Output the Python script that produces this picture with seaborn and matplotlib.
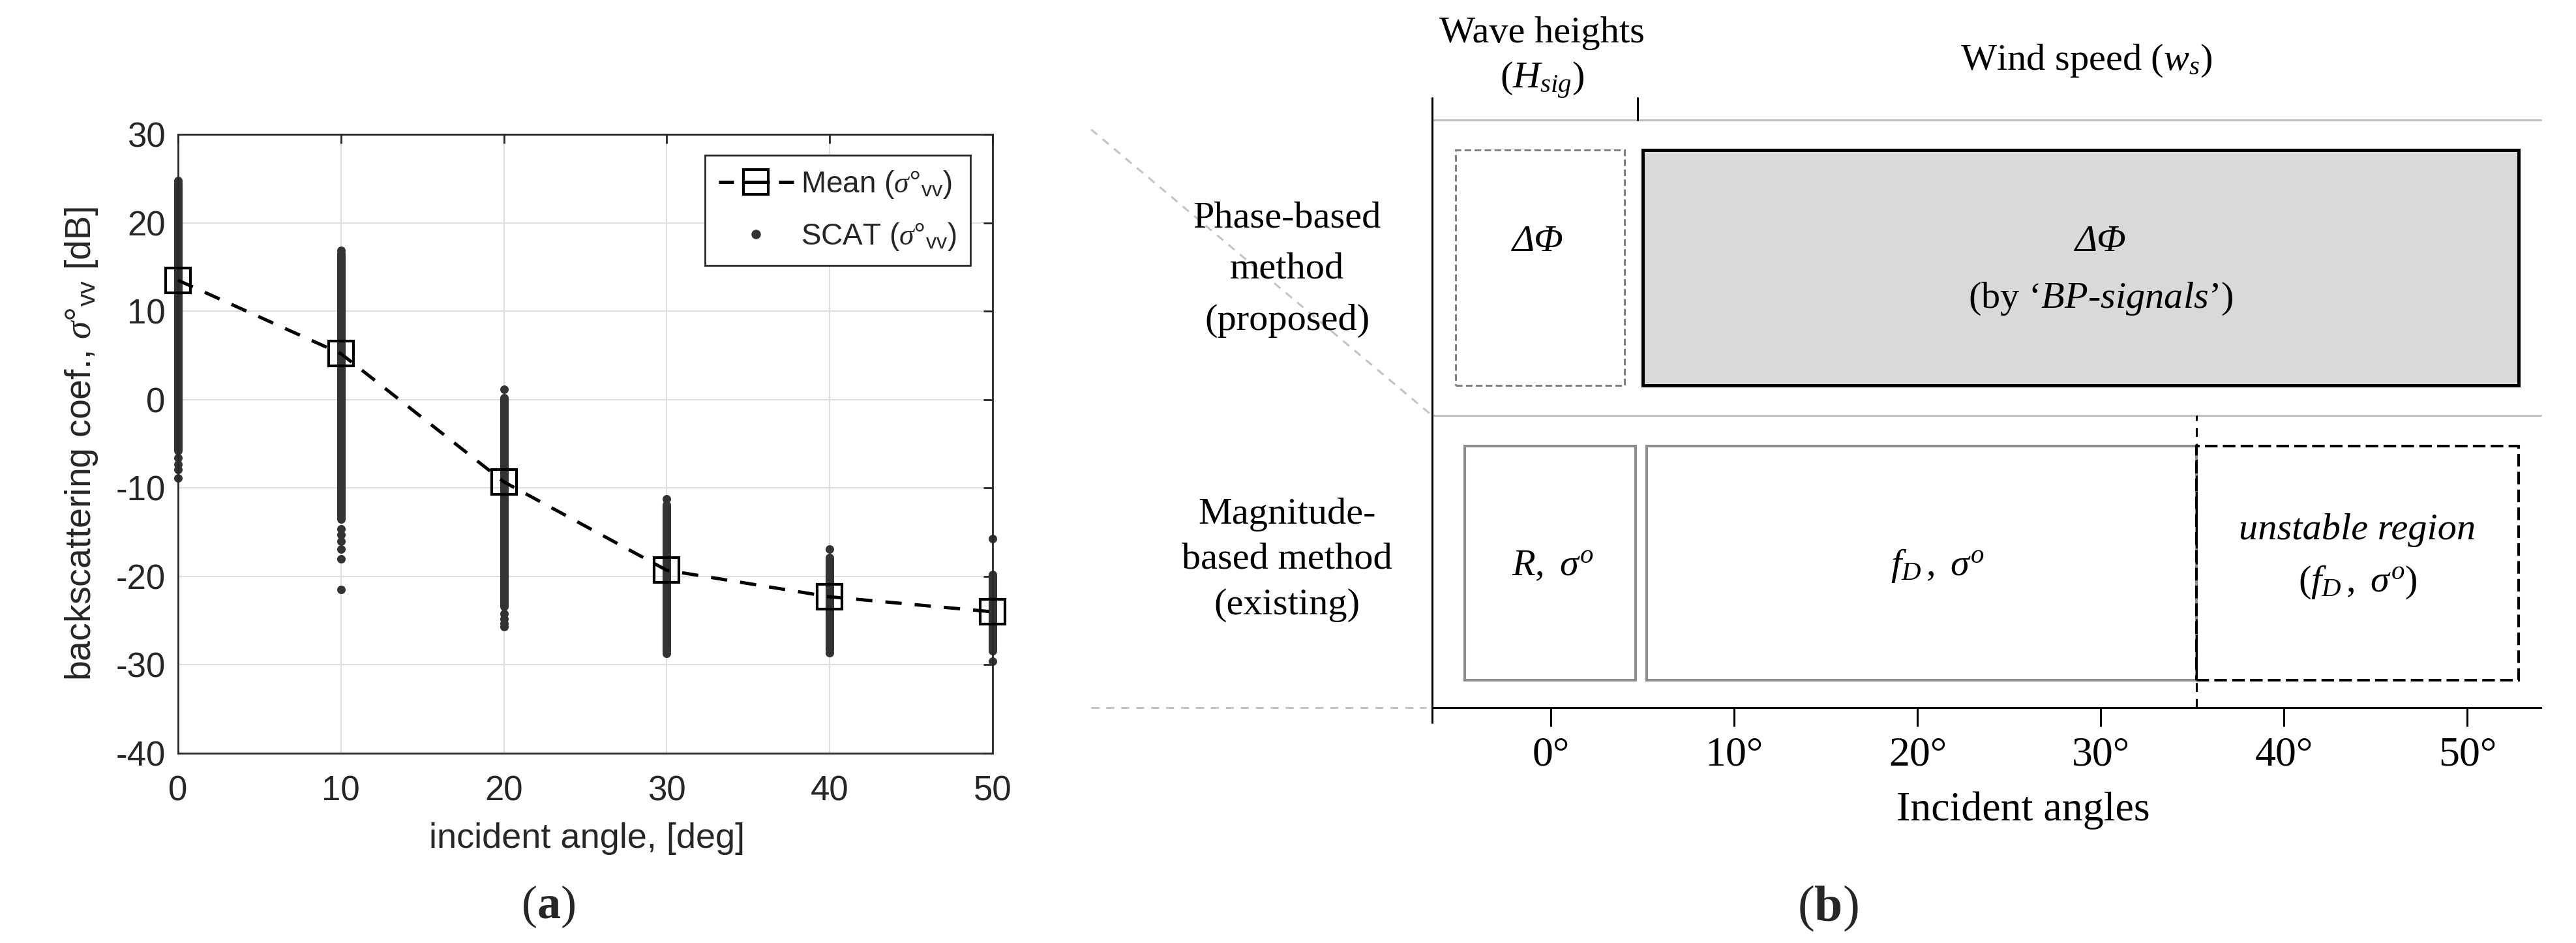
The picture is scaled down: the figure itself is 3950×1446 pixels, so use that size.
import matplotlib
matplotlib.use("Agg")
import matplotlib.pyplot as plt
from matplotlib.patches import Rectangle
from matplotlib.lines import Line2D
import seaborn as sns
import pandas as pd

# ---- (a) backscattering coefficient vs incident angle ----
angles = [0, 10, 20, 30, 40, 50]
mean_vv = [13.5, 5.2, -9.3, -19.3, -22.3, -24.0]
# dense part of every SCAT column (so many dots that it reads as a bar)
scat_top = [24.5, 16.5, 0.2, -11.9, -17.9, -19.8]
scat_bottom = [-5.8, -13.5, -23.4, -28.4, -28.3, -28.4]
# single SCAT dots that stand apart from the dense part
dot_angle = [0, 0, 0, 0, 0, 10, 10, 10, 10, 10, 10, 10,
             20, 20, 20, 20, 20, 30, 30, 40, 40, 50, 50]
dot_value = [24.8, -6.6, -7.3, -7.9, -8.9, 16.9, -14.6, -15.3, -16.0, -16.9, -18.0, -21.5,
             1.2, -24.2, -24.8, -25.3, -25.7, -11.2, -28.7, -16.9, -28.6, -15.7, -29.6]

# ---- (b) method / angle-range diagram ----
tick_deg = [0, 10, 20, 30, 40, 50]
box_names = ["phase_wave", "phase_wind", "mag_wave", "mag_wind", "mag_unstable"]
box_x0 = [-5.2, 5.0, -4.7, 5.2, 35.2]
box_x1 = [4.0, 52.8, 4.6, 35.2, 52.8]
box_row = ["phase", "phase", "magnitude", "magnitude", "magnitude"]
row_lo = {"phase": 52.8, "magnitude": 4.5}
row_hi = {"phase": 91.4, "magnitude": 42.9}

sns.set_theme(style="white")
plt.rcParams["font.family"] = ["Liberation Sans", "DejaVu Sans"]
plt.rcParams["axes.unicode_minus"] = False
plt.rcParams["mathtext.fontset"] = "custom"
plt.rcParams["mathtext.rm"] = "Liberation Serif"
plt.rcParams["mathtext.it"] = "Liberation Serif:italic"
plt.rcParams["mathtext.bf"] = "Liberation Serif:bold"
plt.rcParams["mathtext.sf"] = "Liberation Sans"

serif = ["Liberation Serif", "DejaVu Serif"]
ink = "#262626"
scat_col = "#333333"

fig = plt.figure(figsize=(39.5, 14.46), dpi=100)
ax = fig.add_axes([0.0691, 0.2012, 0.3162, 0.6563])
axb = fig.add_axes([0.5559, 0.2497, 0.4304, 0.6466])

# ---------------- panel (a) ----------------
ax.set_axisbelow(True)
ax.vlines(angles, scat_bottom, scat_top, colors=scat_col, linewidth=9.4,
          capstyle="round", clip_on=False, zorder=2)
dots = pd.DataFrame({"angle": dot_angle, "value": dot_value})
sns.scatterplot(data=dots, x="angle", y="value", ax=ax, color=scat_col, s=88,
                linewidth=0, clip_on=False, zorder=2)
sns.lineplot(x=angles, y=mean_vv, ax=ax, color="black", linewidth=3.6,
             linestyle=(0, (5, 4)), marker="s", markersize=28,
             markerfacecolor="none", markeredgecolor="black", markeredgewidth=3,
             clip_on=False, zorder=3)

ax.set_xlim(0, 50)
ax.set_ylim(-40, 30)
ax.set_xticks(angles)
ax.set_yticks(range(-40, 31, 10))
ax.grid(True, color="#dedede", linewidth=1.4)
ax.tick_params(direction="in", top=True, right=True, length=10, width=2,
               colors=ink, labelsize=38)
ax.tick_params(axis="x", pad=24)
ax.tick_params(axis="y", pad=14)
for s in ax.spines.values():
    s.set_visible(True)
    s.set_color(ink)
    s.set_linewidth(2)

ax.set_xlabel("incident angle, [deg]", fontsize=39, color=ink)
ax.xaxis.set_label_coords(0.502, -0.1117)
ax.set_ylabel(r"backscattering coef., $\sigma$°$_{\mathsf{vv}}$ [dB]", fontsize=40, color=ink)
ax.yaxis.set_label_coords(-0.096, 0.5)

h_mean = Line2D([], [], color="black", lw=3.6, linestyle=(0, (4.6, 2.8, 8.2, 2.8, 4.6)),
                marker="s", ms=28, mfc="none", mec="black", mew=3)
h_scat = Line2D([], [], linestyle="none", marker="o", ms=9.4, color=scat_col)
leg = ax.legend([h_mean, h_scat],
                [r"Mean ($\sigma$°$_{\mathsf{vv}}$)", r"SCAT ($\sigma$°$_{\mathsf{vv}}$)"],
                loc="upper right", bbox_to_anchor=(0.9728, 0.9663), borderaxespad=0,
                fontsize=33, frameon=True, fancybox=False, edgecolor=ink, framealpha=1,
                handlelength=2.5, handletextpad=0.25, borderpad=0.45, labelspacing=0.7,
                numpoints=1)
leg.get_frame().set_linewidth(2)

fig.text(0.2127, 0.0387, r"$(\mathbf{a})$", ha="center", va="center", fontsize=52)

# ---------------- panel (b) ----------------
box_style = {
    "phase_wave": dict(facecolor="white", edgecolor="#808080", lw=2.2, ls=(0, (3.3, 1.7))),
    "phase_wind": dict(facecolor="#d9d9d9", edgecolor="black", lw=3.6, ls="-"),
    "mag_wave": dict(facecolor="white", edgecolor="#8c8c8c", lw=2.9, ls="-"),
    "mag_wind": dict(facecolor="white", edgecolor="#8c8c8c", lw=2.9, ls="-"),
    "mag_unstable": dict(facecolor="none", edgecolor="black", lw=2.9, ls=(0, (4.8, 2))),
}
for name, x0, x1, row in zip(box_names, box_x0, box_x1, box_row):
    st = box_style[name]
    axb.add_patch(Rectangle((x0, row_lo[row]), x1 - x0, row_hi[row] - row_lo[row],
                            facecolor=st["facecolor"], edgecolor=st["edgecolor"],
                            linewidth=st["lw"], linestyle=st["ls"], zorder=2))

axb.set_xlim(-6.5, 54.0)
axb.set_ylim(0, 100)

gray_line = "#bfbfbf"
axb.plot([-6.5, 54.0], [96.4, 96.4], color=gray_line, lw=2.2, clip_on=False, zorder=1)
axb.plot([-6.5, 54.0], [47.9, 47.9], color=gray_line, lw=2.2, clip_on=False, zorder=1)
axb.plot([-6.5, -6.5], [-2.5, 100], color="black", lw=2.2, clip_on=False, zorder=3)
axb.plot([4.7, 4.7], [96.4, 100], color="black", lw=2.2, clip_on=False, zorder=3)
axb.plot([35.2, 35.2], [0, 47.9], color="black", lw=2.2, ls=(0, (4.5, 3.5)), zorder=3)
axb.plot([-25.1, -6.5], [94.8, 47.9], color="#c4c4c4", lw=2.2, ls=(0, (4, 3.5)),
         clip_on=False)
axb.plot([-25.1, -6.8], [0, 0], color="#c4c4c4", lw=2.2, ls=(0, (4, 3.5)), clip_on=False)

axb.set_xticks(tick_deg)
axb.set_xticklabels([f"{t}°" for t in tick_deg])
axb.set_yticks([])
axb.tick_params(axis="x", direction="out", length=21, width=2.2, color="black",
                pad=11, labelsize=46, labelcolor="black", bottom=True)
for lab in axb.get_xticklabels():
    lab.set_fontfamily(serif)
for side in ["left", "top", "right"]:
    axb.spines[side].set_visible(False)
axb.spines["bottom"].set_color("black")
axb.spines["bottom"].set_linewidth(2.2)
axb.set_xlabel("Incident angles", fontsize=46, family=serif, color="black")
axb.xaxis.set_label_coords(0.5335, -0.138)

txt = dict(ha="center", va="baseline", fontsize=42, family=serif, color="black")
for y, line in zip([78.8, 70.4, 61.9], ["Phase-based", "method", "(proposed)"]):
    axb.text(-14.4, y, line, **txt)
for y, line in zip([30.2, 22.8, 15.3], ["Magnitude-", "based method", "(existing)"]):
    axb.text(-14.4, y, line, **txt)

axb.text(-0.5, 109.1, "Wave heights", **txt)
axb.text(-0.5, 101.6, r"$(H_{sig})$", **txt)
axb.text(29.2, 104.6, r"Wind speed ($w_s$)", **txt)

axb.text(-0.7, 74.9, "ΔΦ", style="italic", **txt)
axb.text(30.0, 74.9, "ΔΦ", style="italic", **txt)
axb.text(30.0, 65.6, r"(by ‘$BP$-$signals$’)", **txt)
axb.text(0.1, 21.7, r"$R,\ \sigma^{o}$", **txt)
axb.text(21.1, 21.7, r"$f_D\,,\ \sigma^{o}$", **txt)
axb.text(44.0, 27.6, "unstable region", style="italic", **txt)
axb.text(44.0, 19.1, r"$(f_D\,,\ \sigma^{o})$", **txt)

fig.text(0.7096, 0.0367, r"$(\mathbf{b})$", ha="center", va="center", fontsize=56)

fig.savefig("out.png", dpi=100, facecolor="white")
